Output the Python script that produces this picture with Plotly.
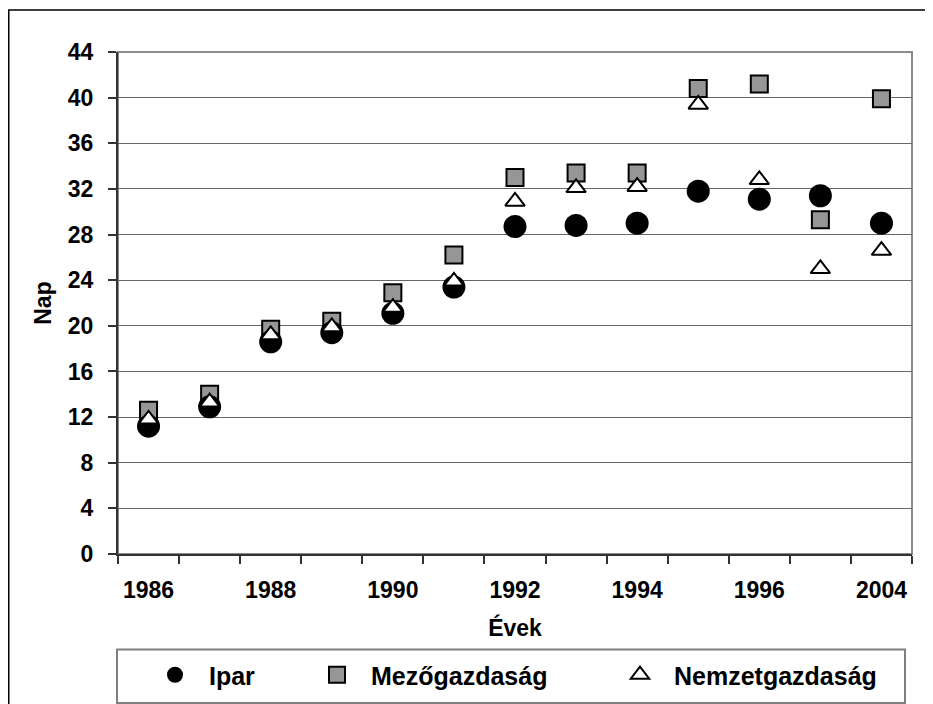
import plotly.graph_objects as go

years = ["1986", "1987", "1988", "1989", "1990", "1991", "1992", "1993",
         "1994", "1995", "1996", "2003", "2004"]
ipar = [11.2, 12.9, 18.6, 19.4, 21.1, 23.4, 28.7, 28.8, 29.0, 31.8, 31.1, 31.4, 29.0]
mezogazdasag = [12.6, 14.0, 19.7, 20.4, 22.9, 26.2, 33.0, 33.4, 33.4, 40.8, 41.2, 29.3, 39.9]
nemzetgazdasag = [11.8, 13.3, 19.2, 19.9, 21.6, 23.9, 30.9, 32.1, 32.2, 39.4, 32.8, 25.0, 26.6]
tick_labels = [y if i % 2 == 0 else "" for i, y in enumerate(years)]
y_ticks = list(range(0, 45, 4))

FONT = "Liberation Sans, Arial, sans-serif"

fig = go.Figure()
fig.add_trace(go.Scatter(
    x=years, y=mezogazdasag, mode="markers", name="Mezőgazdaság",
    marker=dict(symbol="square", size=17, color="#969696",
                line=dict(color="black", width=2)),
    legend="legend2", legendrank=2))
fig.add_trace(go.Scatter(
    x=years, y=ipar, mode="markers", name="Ipar",
    marker=dict(symbol="circle", size=23, color="black",
                line=dict(color="black", width=0)),
    legend="legend", legendrank=1))
fig.add_trace(go.Scatter(
    x=years, y=nemzetgazdasag, mode="markers", name="Nemzetgazdaság",
    marker=dict(symbol="triangle-up", size=17, color="white",
                line=dict(color="black", width=2)),
    legend="legend3", legendrank=3))

# the page shows the figure offset by the body's 8px margin
OFF = 8
W, H = 933 - OFF, 704 - OFF
ML, MR, MT, MB = 110, 21, 44, 150
PW, PH = W - ML - MR, H - MT - MB


def px(x):
    return (x - OFF - ML) / PW


def py(y):
    return (H - MB - (y - OFF)) / PH


leg_common = dict(orientation="h", xref="container", yref="container",
                  xanchor="left", yanchor="middle", bgcolor="rgba(0,0,0,0)",
                  borderwidth=0, itemwidth=58,
                  font=dict(family=FONT, size=25, color="black", weight="bold"))
LEG_Y = 1 - (675 - OFF) / H

fig.update_layout(
    width=W, height=H,
    margin=dict(l=ML, r=MR, t=MT, b=MB),
    paper_bgcolor="white", plot_bgcolor="white",
    font=dict(family=FONT, color="black"),
    showlegend=True,
    legend=dict(x=(175 - OFF - 34) / W, y=LEG_Y, **leg_common),
    legend2=dict(x=(337 - OFF - 34) / W, y=LEG_Y, **leg_common),
    legend3=dict(x=(640 - OFF - 34) / W, y=LEG_Y, **leg_common),
    xaxis=dict(
        type="category", tickmode="array", tickvals=years, ticktext=tick_labels,
        tickson="boundaries", ticks="outside", ticklen=8, tickcolor="#333333",
        tickwidth=1.5, showgrid=False, showline=True, linecolor="#333333",
        linewidth=2, ticklabelstandoff=14,
        tickfont=dict(family=FONT, size=23, color="black", weight="bold"),
        title=dict(text="Évek", standoff=18,
                   font=dict(family=FONT, size=23, color="black", weight="bold")),
        range=[-0.5, len(years) - 0.5], zeroline=False),
    yaxis=dict(
        range=[0, 44], tickmode="array", tickvals=y_ticks,
        ticks="outside", ticklen=8, tickcolor="#333333", tickwidth=1.5,
        showgrid=True, gridcolor="#666666", gridwidth=1,
        showline=True, linecolor="#333333", linewidth=2, zeroline=False,
        ticklabelstandoff=10,
        tickfont=dict(family=FONT, size=23, color="black", weight="bold"),
        title=dict(text="Nap", standoff=10,
                   font=dict(family=FONT, size=23, color="black", weight="bold"))),
    shapes=[
        # plot area border (top/right grey)
        dict(type="rect", xref="paper", yref="paper", x0=0, x1=1, y0=0, y1=1,
             line=dict(color="#8c8c8c", width=2), layer="below"),
        # outer chart frame
        dict(type="rect", xref="paper", yref="paper",
             x0=px(8.75), x1=px(945), y0=py(715), y1=py(10),
             line=dict(color="black", width=1.5)),
        # legend frame
        dict(type="rect", xref="paper", yref="paper",
             x0=px(117), x1=px(905), y0=py(703), y1=py(649.5),
             line=dict(color="#7f7f7f", width=2)),
    ],
)

fig.write_html("out.html")
